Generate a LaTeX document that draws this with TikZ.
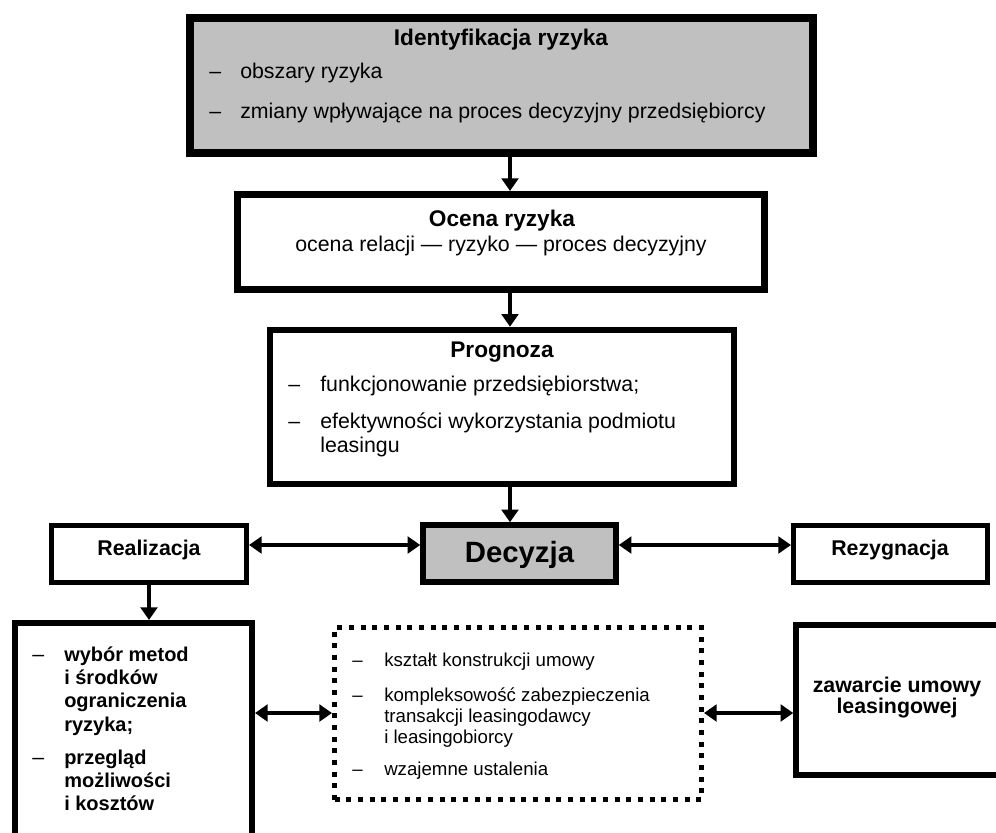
\documentclass[tikz,border=0pt]{standalone}
\usepackage{fontspec}
\setmainfont{Liberation Sans}
\usetikzlibrary{arrows.meta,fit}

\definecolor{boxgray}{HTML}{C0C0C0}

\tikzset{
  box/.style={draw, line width=3.75pt, inner sep=0pt},
  graybox/.style={box, fill=boxgray},
  dotbox/.style={draw, line width=3.75pt, dash pattern=on 3.75pt off 5pt, inner sep=0pt},
  arr/.style={-{Triangle[length=9.5pt,width=12.5pt]}, line width=3.4pt},
  dblarr/.style={{Triangle[length=9.5pt,width=12.5pt]}-{Triangle[length=9.5pt,width=12.5pt]}, line width=3.4pt},
  title/.style={inner sep=0pt, anchor=base, font=\bfseries\fontsize{17}{20}\selectfont},
  txt/.style={inner sep=0pt, anchor=base west, font=\fontsize{16}{19}\selectfont},
  txtb/.style={inner sep=0pt, anchor=base west, font=\bfseries\fontsize{15}{18}\selectfont},
  txts/.style={inner sep=0pt, anchor=base west, font=\fontsize{14}{17}\selectfont},
}

\begin{document}
\begin{tikzpicture}[x=0.75pt,y=-0.75pt]
\useasboundingbox (0,0) rectangle (996,832);
\clip (0,0) rectangle (996,832);

% bloki
\node[graybox, line width=5.6pt, fit={(190,18)(813,153)}] (ident) {};
\node[box, line width=5.25pt, fit={(237.5,194.5)(764.5,289.5)}] (ocena) {};
\node[box, line width=4.9pt, fit={(270,330)(734,484)}] (prognoza) {};
\node[graybox, line width=4.1pt, fit={(423,525)(616,582)}] (decyzja) {};
\node[box, fit={(51.5,525.5)(246.5,582.5)}] (realizacja) {};
\node[box, fit={(793.5,525.5)(987.5,582.5)}] (rezygnacja) {};
\node[box, line width=4.5pt, fit={(15,623)(252,850)}] (srodki) {};
\node[dotbox, fit={(334.5,627.5)(701.5,799.5)}] (ustalenia) {};
\node[box, line width=4.1pt, fit={(796,625)(1010,775)}] (umowa) {};

% identyfikacja
\node[title] (t1) at (501,45) {Identyfikacja ryzyka};
\node[txt] (d1) at (209,78) {–};
\node[txt] (i1) at (240,78) {obszary ryzyka};
\node[txt] (d2) at (209,118) {–};
\node[txt] (i2) at (240,118) {zmiany wpływające na proces decyzyjny przedsiębiorcy};

% ocena
\node[title] (t2) at (502,226) {Ocena ryzyka};
\node[title, font=\fontsize{16}{19}\selectfont] (o1) at (501,251) {ocena relacji — ryzyko — proces decyzyjny};

% prognoza
\node[title] (t3) at (502,357) {Prognoza};
\node[txt] (d3) at (288,391) {–};
\node[txt] (p1) at (320,391) {funkcjonowanie przedsiębiorstwa;};
\node[txt] (d4) at (288,428) {–};
\node[txt] (p2) at (320,428) {efektywności wykorzystania podmiotu};
\node[txt] (p3) at (320,452) {leasingu};

% decyzja i warianty
\node[title, font=\bfseries\fontsize{22}{26}\selectfont] (t4) at (519.5,562) {Decyzja};
\node[title, font=\bfseries\fontsize{16}{19}\selectfont] (t5) at (149,555) {Realizacja};
\node[title, font=\bfseries\fontsize{16}{19}\selectfont] (t6) at (890,555) {Rezygnacja};

% srodki
\foreach \y [count=\i] in {661,764}
  \node[txt] (ld\i) at (32,\y) {–};
\foreach \t/\y [count=\i] in {wybór metod/661, i środków/684, ograniczenia/707, ryzyka;/731,
    przegląd/764, możliwości/787, i kosztów/810}
  \node[txtb] (l\i) at (64,\y) {\t};

% ustalenia
\foreach \y [count=\i] in {666,701,775}
  \node[txts] (ud\i) at (352,\y) {–};
\foreach \t/\y [count=\i] in {kształt konstrukcji umowy/666, kompleksowość zabezpieczenia/701,
    transakcji leasingodawcy/722, i leasingobiorcy/743, wzajemne ustalenia/775}
  \node[txts] (u\i) at (384,\y) {\t};

% umowa
\node[title, font=\bfseries\fontsize{16}{19}\selectfont] (z1) at (897,692) {zawarcie umowy};
\node[title, font=\bfseries\fontsize{16}{19}\selectfont] (z2) at (897,713) {leasingowej};

% strzalki
\coordinate (os) at (510,0);
\coordinate (h1) at (0,545);
\coordinate (h2) at (0,713);
\draw[arr] (os |- ident.south) -- (os |- ocena.north);
\draw[arr] (os |- ocena.south) -- (os |- prognoza.north);
\draw[arr] (os |- prognoza.south) -- (os |- decyzja.north);
\draw[dblarr] (realizacja.east |- h1) -- (decyzja.west |- h1);
\draw[dblarr] (decyzja.east |- h1) -- (rezygnacja.west |- h1);
\draw[arr] (realizacja.south) -- (realizacja.south |- srodki.north);
\draw[dblarr] (srodki.east |- h2) -- (ustalenia.west |- h2);
\draw[dblarr] (ustalenia.east |- h2) -- (umowa.west |- h2);

\end{tikzpicture}
\end{document}
